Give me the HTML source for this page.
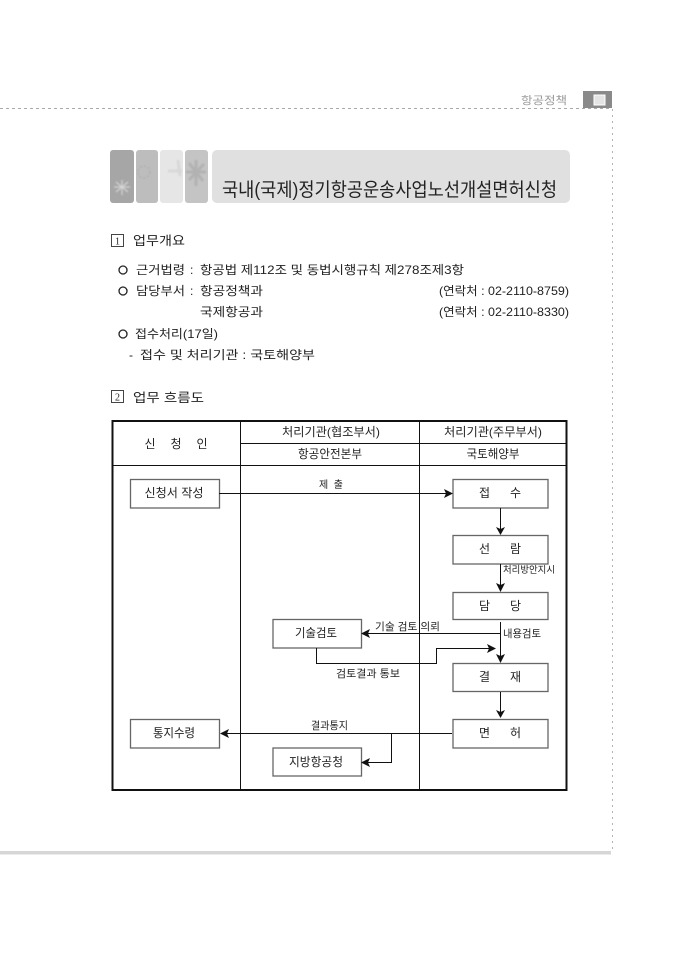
<!DOCTYPE html>
<html><head><meta charset="utf-8"><style>
html,body{margin:0;padding:0;background:#fff}
svg{display:block}
text{font-family:"Liberation Sans","Noto Sans CJK KR","NanumGothic",sans-serif;fill:#222}
.s{font-family:"Liberation Serif","Noto Serif CJK SC","NanumGothic",serif}
.b{font-size:12px;fill:#222}
.n{font-size:12px;fill:#222}
.box{fill:#fff;stroke:#666;stroke-width:1.300}
.l{fill:none;stroke:#111;stroke-width:1}
.c{text-anchor:middle}
</style></head><body>
<svg width="680" height="962" viewBox="0 0 680 962" xmlns="http://www.w3.org/2000/svg">
<defs><filter id="soft"><feGaussianBlur stdDeviation="0.800"/></filter></defs>
<rect width="680" height="962" fill="#fff"/>
<!-- page frame -->
<line x1="0" y1="108.500" x2="612" y2="108.500" stroke="#aaa" stroke-dasharray="3 3"/>
<line x1="612.500" y1="109" x2="612.500" y2="852" stroke="#b4b4b4" stroke-dasharray="2 4"/>
<rect x="0" y="851" width="611" height="3.500" fill="#d6d6d6"/>
<text x="521" y="104" font-size="11" style="fill:#999" textLength="46" lengthAdjust="spacingAndGlyphs">항공정책</text>
<rect x="583" y="91" width="29" height="17" fill="#8a8a8a"/>
<rect x="594" y="95" width="11" height="10" fill="#e4e4e4" stroke="#fff"/>
<!-- title -->
<rect x="110" y="150" width="24" height="53" rx="3" fill="#a6a6a6"/>
<rect x="136" y="150" width="22" height="53" rx="3" fill="#bdbdbd"/>
<rect x="160" y="150" width="23" height="53" rx="3" fill="#e6e6e6"/>
<rect x="185" y="150" width="23" height="53" rx="3" fill="#c4c4c4"/>
<g filter="url(#soft)">
<g stroke="#d4d4d4" stroke-width="1.200"><path d="M114 187h16M122 180v15M116 182l12 10M128 182l-12 10"/></g>
<g stroke="#a8a8a8" fill="none"><circle cx="144" cy="172" r="6" stroke-dasharray="2 2"/></g>
<g stroke="#d8d8d8" stroke-width="3"><path d="M168 171h14M178 160l2 16"/></g>
<g stroke="#b2b2b2" stroke-width="3"><path d="M186 172h20M196 160v26M189 163l14 18M204 164l-15 16"/></g>
</g>
<rect x="212" y="150" width="358" height="53" rx="5" fill="#e0e0e0"/>
<text x="222" y="196" font-size="19" textLength="335" lengthAdjust="spacingAndGlyphs">국내(국제)정기항공운송사업노선개설면허신청</text>
<!-- section 1 -->
<rect x="111.500" y="234.500" width="12" height="12" fill="#fff" stroke="#444"/>
<text x="117.500" y="244.500" font-size="10" class="c s">1</text>
<text x="133" y="245" font-size="12.500" textLength="52" lengthAdjust="spacingAndGlyphs">업무개요</text>
<circle cx="123" cy="270" r="4" fill="none" stroke="#222" stroke-width="1.300"/>
<text x="136" y="274" class="b" textLength="49" lengthAdjust="spacingAndGlyphs">근거법령</text>
<text x="190" y="274" class="b">:</text>
<text x="200" y="274" class="b" textLength="264" lengthAdjust="spacingAndGlyphs">항공법 제112조 및 동법시행규칙 제278조제3항</text>
<circle cx="123" cy="291" r="4" fill="none" stroke="#222" stroke-width="1.300"/>
<text x="136" y="295" class="b" textLength="49" lengthAdjust="spacingAndGlyphs">담당부서</text>
<text x="190" y="295" class="b">:</text>
<text x="200" y="295" class="b" textLength="63" lengthAdjust="spacingAndGlyphs">항공정책과</text>
<text x="439" y="295" class="b" textLength="130" lengthAdjust="spacingAndGlyphs">(연락처 : 02-2110-8759)</text>
<text x="200" y="316" class="b" textLength="63" lengthAdjust="spacingAndGlyphs">국제항공과</text>
<text x="439" y="316" class="b" textLength="130" lengthAdjust="spacingAndGlyphs">(연락처 : 02-2110-8330)</text>
<circle cx="123" cy="334" r="4" fill="none" stroke="#222" stroke-width="1.300"/>
<text x="135" y="338" class="b" textLength="83" lengthAdjust="spacingAndGlyphs">접수처리(17일)</text>
<text x="129" y="359" class="b">-</text>
<text x="140" y="359" class="b" textLength="175" lengthAdjust="spacingAndGlyphs">접수 및 처리기관 : 국토해양부</text>
<!-- section 2 -->
<rect x="111.500" y="390.500" width="12" height="12" fill="#fff" stroke="#444"/>
<text x="117.500" y="400.500" font-size="10" class="c s">2</text>
<text x="133" y="402" font-size="12.500" textLength="71" lengthAdjust="spacingAndGlyphs">업무 흐름도</text>
<!-- flow table -->
<rect x="112.500" y="421" width="454" height="369" fill="#fff" stroke="#111" stroke-width="2"/>
<line class="l" x1="240.500" y1="421" x2="240.500" y2="790"/>
<line class="l" x1="419.500" y1="421" x2="419.500" y2="790"/>
<line class="l" x1="240" y1="443.500" x2="566" y2="443.500"/>
<line class="l" x1="112" y1="465.500" x2="566" y2="465.500"/>
<text x="176" y="448" class="n c" textLength="63" lengthAdjust="spacing">신 청 인</text>
<text x="331" y="436" class="n c" textLength="98" lengthAdjust="spacingAndGlyphs">처리기관(협조부서)</text>
<text x="493" y="436" class="n c" textLength="98" lengthAdjust="spacingAndGlyphs">처리기관(주무부서)</text>
<text x="330" y="458" class="n c" textLength="64" lengthAdjust="spacingAndGlyphs">항공안전본부</text>
<text x="493" y="458" class="n c" textLength="53" lengthAdjust="spacingAndGlyphs">국토해양부</text>
<!-- boxes -->
<rect class="box" x="130.500" y="479.500" width="89" height="28.500"/>
<rect class="box" x="453" y="479.500" width="95" height="28.500"/>
<rect class="box" x="453" y="535.500" width="95" height="28.500"/>
<rect class="box" x="453" y="592.500" width="95" height="27"/>
<rect class="box" x="273" y="619.500" width="88.500" height="28.500"/>
<rect class="box" x="453" y="663.500" width="95" height="28"/>
<rect class="box" x="453" y="719.500" width="95" height="28.500"/>
<rect class="box" x="130.500" y="719.500" width="89" height="28.500"/>
<rect class="box" x="273" y="748" width="88.500" height="28"/>
<text x="174" y="497" class="n c" textLength="59" lengthAdjust="spacingAndGlyphs">신청서 작성</text>
<text x="500" y="497" class="n c" textLength="42" lengthAdjust="spacing">접 수</text>
<text x="500" y="553" class="n c" textLength="42" lengthAdjust="spacing">선 람</text>
<text x="500" y="610" class="n c" textLength="42" lengthAdjust="spacing">담 당</text>
<text x="316" y="637" class="n c" textLength="42" lengthAdjust="spacingAndGlyphs">기술검토</text>
<text x="500" y="681" class="n c" textLength="42" lengthAdjust="spacing">결 재</text>
<text x="500" y="737" class="n c" textLength="42" lengthAdjust="spacing">면 허</text>
<text x="174" y="737" class="n c" textLength="42" lengthAdjust="spacingAndGlyphs">통지수령</text>
<text x="316" y="766" class="n c" textLength="54" lengthAdjust="spacingAndGlyphs">지방항공청</text>
<!-- connectors -->
<path class="l" d="M219 493.500H447"/><path d="M444 489l9 4.500-9 4.500 2-4.500z" fill="#111"/>
<path class="l" d="M500.500 508V530"/><path d="M496 527l4.500 8 4.500-8-4.500 2z" fill="#111"/>
<path class="l" d="M500.500 564V586"/><path d="M496 583l4.500 9 4.500-9-4.500 2z" fill="#111"/>
<path class="l" d="M500.500 622V658"/><path d="M496 654l4.500 9 4.500-9-4.500 2z" fill="#111"/>
<path class="l" d="M500.500 633.500H366"/><path d="M370 629l-9 4.500 9 4.500-2-4.500z" fill="#111"/>
<path class="l" d="M316.500 648V663.500H436.500V648.500H490"/><path d="M487 644l9 4.500-9 4.500 2-4.500z" fill="#111"/>
<path class="l" d="M500.500 692V714"/><path d="M496 710l4.500 8 4.500-8-4.500 2z" fill="#111"/>
<path class="l" d="M452 733.500H225"/><path d="M229 729l-9 4.500 9 4.500-2-4.500z" fill="#111"/>
<path class="l" d="M391.500 733.500V762.500H366"/><path d="M370 758l-9 4.500 9 4.500-2-4.500z" fill="#111"/>
<!-- connector labels -->
<text x="331" y="488" font-size="10" class="c" textLength="24" lengthAdjust="spacing">제 출</text>
<text x="503" y="573" font-size="9.500" textLength="52" lengthAdjust="spacingAndGlyphs">처리방안지시</text>
<text x="375" y="630" font-size="10.500" textLength="65" lengthAdjust="spacingAndGlyphs">기술 검토 의뢰</text>
<text x="503" y="637" font-size="10.500" textLength="38" lengthAdjust="spacingAndGlyphs">내용검토</text>
<text x="336" y="677" font-size="10.500" textLength="64" lengthAdjust="spacingAndGlyphs">검토결과 통보</text>
<text x="311" y="729" font-size="10.500" textLength="37" lengthAdjust="spacingAndGlyphs">결과통지</text>
</svg>
</body></html>
